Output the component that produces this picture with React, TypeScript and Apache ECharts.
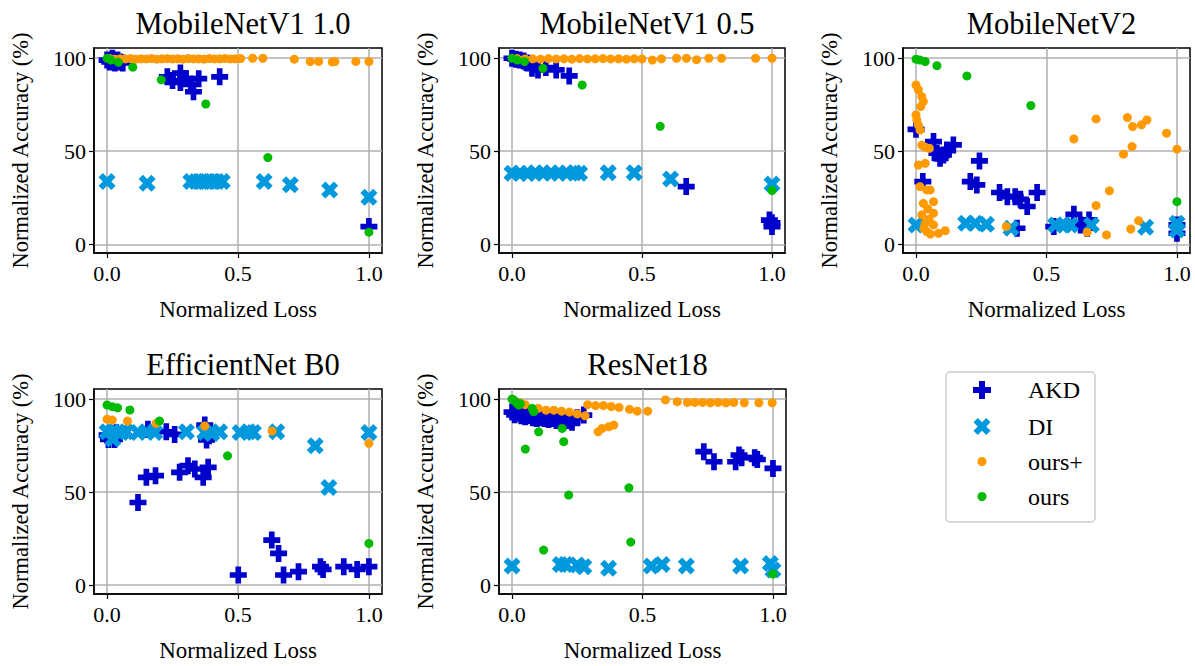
import React, { useEffect, useRef } from "react";
import * as echarts from "echarts";

// ---------- data ----------
const titles = ["MobileNetV1 1.0", "MobileNetV1 0.5", "MobileNetV2", "EfficientNet B0", "ResNet18"];
const seriesNames = ["AKD", "DI", "ours+", "ours"];
const xTicks = [0, 0.5, 1];
const yTicks = [0, 50, 100];

const m10AKD = [[0, 99], [0.01, 98], [0.02, 100], [0.03, 97.5], [0.04, 99], [0.05, 98], [0.06, 97.5], [0.23, 90], [0.25, 88], [0.28, 92], [0.28, 87], [0.3, 89], [0.32, 86], [0.33, 82], [0.35, 89], [0.43, 90], [1.0, 9.5]];
const m10DI = [[0, 33.7], [0.153, 32.8], [0.32, 33.7], [0.34, 33.7], [0.36, 33.7], [0.38, 33.7], [0.4, 33.7], [0.42, 33.7], [0.44, 33.7], [0.6, 33.7], [0.7, 32], [0.85, 29.2], [1.0, 25.3]];
const m10OursPlus = [[0.01, 99.8], [0.03, 99.5], [0.05, 99.7], [0.07, 99.6], [0.09, 99.8], [0.11, 99.5], [0.13, 99.7], [0.15, 99.6], [0.17, 99.8], [0.19, 99.5], [0.21, 99.7], [0.23, 99.8], [0.25, 99.6], [0.27, 99.7], [0.29, 99.5], [0.31, 99.8], [0.33, 99.6], [0.35, 99.7], [0.37, 99.5], [0.39, 99.8], [0.41, 99.6], [0.43, 99.7], [0.45, 99.8], [0.47, 99.6], [0.49, 99.7], [0.51, 99.8], [0.556, 100], [0.595, 100], [0.715, 99.5], [0.776, 98.2], [0.808, 98.3], [0.86, 98], [0.87, 98.2], [0.95, 98.3], [1.0, 98.2]];
const m10Ours = [[0, 100], [0.015, 99], [0.043, 97.8], [0.098, 95.2], [0.207, 88.4], [0.377, 75.4], [0.614, 46.6], [1.0, 6.5]];

const m05AKD = [[0, 100], [0.015, 99.5], [0.03, 99], [0.045, 98.5], [0.06, 97.5], [0.077, 94.6], [0.1, 93.7], [0.13, 95], [0.17, 93.7], [0.22, 90.5], [0.67, 31], [0.99, 13], [1.0, 11.5], [1.0, 9.5]];
const m05DI = [[0, 38.2], [0.03, 38.2], [0.06, 38], [0.09, 38.4], [0.12, 38.2], [0.15, 38.5], [0.18, 38.2], [0.21, 38.3], [0.24, 38.5], [0.26, 38.2], [0.37, 38.5], [0.47, 38.5], [0.61, 35.1], [1.0, 32.4]];
const m05OursPlus = [[0.02, 99.8], [0.05, 99.6], [0.08, 99.7], [0.11, 99.5], [0.14, 99.8], [0.17, 99.6], [0.2, 99.7], [0.23, 99.5], [0.26, 99.8], [0.29, 99.6], [0.32, 99.7], [0.35, 99.8], [0.38, 99.6], [0.41, 99.7], [0.44, 99.5], [0.47, 99.7], [0.5, 99.6], [0.54, 99], [0.575, 99.7], [0.633, 100], [0.671, 100], [0.71, 99.2], [0.757, 100], [0.806, 100], [0.937, 100], [1.0, 100]];
const m05Ours = [[0, 100], [0.02, 99], [0.048, 98.2], [0.119, 94.6], [0.27, 85.6], [0.57, 63.4], [1.0, 28.9]];

const m2AKD = [[0, 61.8], [0.067, 55.2], [0.08, 48.9], [0.092, 46.2], [0.105, 48], [0.118, 50.7], [0.143, 53.4], [0.026, 33.7], [0.208, 33.7], [0.233, 31.9], [0.243, 44.8], [0.32, 27.8], [0.35, 25.6], [0.38, 25.6], [0.4, 24.2], [0.426, 20.3], [0.464, 27.8], [0.387, 8.6], [0.528, 9.5], [0.605, 16.1], [0.631, 10.4], [0.663, 13.1], [0.656, 8.6], [1.0, 10.4], [1.0, 5.9]];
const m2DI = [[0, 10.4], [0.19, 11.3], [0.227, 11.3], [0.27, 10.8], [0.364, 8.6], [0.535, 10.4], [0.567, 10.4], [0.592, 10.4], [0.672, 10.4], [0.88, 9.1], [1.0, 11.3], [1.0, 7.7]];
const m2OursPlus = [[0, 85.6], [0.009, 83], [0.022, 79.4], [0.028, 76.7], [0.018, 74], [0, 69.5], [0.003, 66.8], [0.009, 64.1], [0.015, 61.4], [0.022, 53.3], [0.035, 52.2], [0.051, 51.6], [0.009, 42.6], [0.035, 43.5], [0.015, 31], [0.041, 29.2], [0.054, 29.2], [0.028, 22], [0.067, 22.9], [0.045, 19], [0.022, 15.8], [0.067, 16.7], [0.05, 13.5], [0.035, 11.3], [0.067, 10.4], [0.03, 8.5], [0.041, 6.8], [0.055, 5.5], [0.086, 5.9], [0.112, 7.3], [0.346, 9.5], [0.605, 56.6], [0.69, 67.4], [0.81, 68.1], [0.83, 63.3], [0.864, 64.2], [0.885, 66.8], [0.96, 59.7], [1.0, 51.1], [0.828, 52.5], [0.795, 48.4], [0.741, 28.7], [0.69, 20.8], [0.853, 12.7], [0.823, 8.2], [0.656, 6.5], [0.73, 5.0]];
const m2Ours = [[0, 99.5], [0.015, 99], [0.035, 98.2], [0.08, 96], [0.195, 90.5], [0.44, 74.6], [1.0, 22.9]];

const effAKD = [[0, 80.6], [0.005, 78.3], [0.028, 78.3], [0.035, 81.9], [0.156, 83.7], [0.226, 82.4], [0.258, 81], [0.373, 86], [0.38, 78], [0.39, 80.3], [0.118, 44.4], [0.15, 57.9], [0.185, 58.8], [0.277, 60.6], [0.309, 64.2], [0.335, 62.4], [0.367, 57.9], [0.386, 63.3], [0.501, 5.4], [0.629, 24.2], [0.655, 17.0], [0.674, 5.4], [0.731, 7.2], [0.815, 9.9], [0.825, 8.4], [0.904, 9.9], [0.955, 8.4], [1.0, 9.9]];
const effDI = [[0, 82.4], [0.022, 78.5], [0.022, 82.4], [0.054, 82], [0.073, 82.4], [0.118, 82], [0.15, 82.4], [0.182, 82], [0.303, 82.4], [0.373, 82], [0.4, 81.5], [0.43, 82.4], [0.508, 82], [0.54, 82.4], [0.559, 82], [0.648, 82.4], [0.795, 74.9], [0.847, 52.5], [1.0, 82]];
const effOursPlus = [[0, 89.2], [0.02, 88.7], [0.078, 88.2], [0.187, 86.9], [0.373, 85.5], [0.63, 82.8], [1.0, 76.2]];
const effOurs = [[0, 96.8], [0.02, 95.9], [0.04, 95.3], [0.087, 94.1], [0.2, 88.2], [0.46, 69.5], [1.0, 22.4]];

const r18AKD = [[0, 93], [0.01, 91.5], [0.02, 92.5], [0.035, 91], [0.05, 90.5], [0.065, 91], [0.08, 90], [0.095, 89.5], [0.11, 90], [0.125, 89.5], [0.14, 89], [0.155, 89.5], [0.17, 88.5], [0.185, 88.7], [0.2, 89.5], [0.215, 88.5], [0.23, 87.5], [0.25, 90], [0.275, 91.4], [0.735, 71.7], [0.774, 66.3], [0.857, 66.3], [0.87, 69.9], [0.88, 68.5], [0.93, 68.5], [0.94, 67.5], [1.0, 62.7]];
const r18DI = [[0, 10.2], [0.185, 11.1], [0.205, 11.1], [0.25, 10.8], [0.275, 9.9], [0.37, 9.0], [0.533, 10.2], [0.575, 11.1], [0.668, 10.2], [0.876, 10.2], [0.99, 11.6], [1.0, 8.1]];
const r18OursPlus = [[0.03, 98], [0.05, 97], [0.1, 95], [0.13, 94], [0.16, 94], [0.19, 93.5], [0.22, 93], [0.25, 92], [0.28, 91], [0.29, 97], [0.32, 96.5], [0.35, 96.5], [0.38, 96], [0.41, 95.5], [0.45, 94.5], [0.48, 93.5], [0.52, 93.5], [0.33, 82.4], [0.345, 84.2], [0.371, 85.1], [0.39, 86], [0.588, 99.5], [0.633, 98.6], [0.672, 98.2], [0.7, 98.2], [0.73, 98.2], [0.76, 98], [0.79, 98.2], [0.82, 98], [0.85, 98.2], [0.89, 98], [0.946, 98], [0.997, 98]];
const r18Ours = [[0, 100], [0.006, 99.5], [0.013, 98.6], [0.019, 97.7], [0.026, 96.8], [0.032, 97.5], [0.077, 95], [0.083, 93.2], [0.051, 73.1], [0.102, 82.4], [0.192, 84.2], [0.198, 77.1], [0.217, 48.4], [0.121, 18.8], [0.448, 52.3], [0.455, 23.1], [1.0, 5.9]];

const panels = [
  [m10AKD, m10DI, m10OursPlus, m10Ours],
  [m05AKD, m05DI, m05OursPlus, m05Ours],
  [m2AKD, m2DI, m2OursPlus, m2Ours],
  [effAKD, effDI, effOursPlus, effOurs],
  [r18AKD, r18DI, r18OursPlus, r18Ours],
];

// ---------- style ----------
const FONT = "'Liberation Serif', 'Times New Roman', serif";
const colors = ["#0000cd", "#0099dd", "#ff9900", "#00bb00"];
const PLUS_PTS = [[-1, -3], [1, -3], [1, -1], [3, -1], [3, 1], [1, 1], [1, 3], [-1, 3], [-1, 1], [-3, 1], [-3, -1], [-1, -1]];
const X_PTS = [[-1, -2], [0, -1], [1, -2], [2, -1], [1, 0], [2, 1], [1, 2], [0, 1], [-1, 2], [-2, 1], [-1, 0], [-2, -1]];
const toPath = (pts: number[][]) => "path://M" + pts.map((p) => p.join(",")).join("L") + "Z";
const symbols = [toPath(PLUS_PTS), toPath(X_PTS), "circle", "circle"];
const symbolSizes = [17, 17, 9, 9];

const grids = [
  { left: 94, top: 48, width: 288, height: 205 },
  { left: 499, top: 48, width: 286, height: 205 },
  { left: 903, top: 48, width: 287, height: 205 },
  { left: 94, top: 389, width: 288, height: 205 },
  { left: 499, top: 389, width: 287, height: 205 },
];
const yRanges = [
  [-4.7, 105.5], [-4.7, 105.5], [-4.7, 105.5], [-4.8, 105.4], [-4.8, 105.4],
];

export default function App() {
  const ref = useRef<HTMLDivElement>(null);
  useEffect(() => {
    if (!ref.current) return;
    const chart = echarts.init(ref.current, undefined, { renderer: "svg" });
    const tickLine = { color: "#000", width: 1.2 };
    const option: any = {
      animation: false,
      backgroundColor: "#fff",
      title: titles.map((t, i) => ({
        text: t,
        left: grids[i].left + grids[i].width / 2,
        top: grids[i].top - 45,
        textAlign: "center",
        textStyle: { fontFamily: FONT, fontSize: 30.5, fontWeight: "normal", color: "#000" },
      })),
      grid: grids.map((g) => ({ ...g, show: true, borderColor: "#000", borderWidth: 1.5, backgroundColor: "transparent", containLabel: false })),
      xAxis: grids.map((g, i) => ({
        gridIndex: i,
        type: "value",
        min: -0.05,
        max: 1.05,
        axisLine: { show: true, onZero: false, lineStyle: { color: "#000", width: 1.5 } },
        axisTick: { show: true, inside: false, length: 5, lineStyle: tickLine, customValues: xTicks },
        axisLabel: { customValues: xTicks, formatter: (v: number) => v.toFixed(1), fontFamily: FONT, fontSize: 22, color: "#000", margin: 9 },
        splitLine: { show: true, lineStyle: { color: "#b0b0b0", width: 1.5 } },
        name: "Normalized Loss",
        nameLocation: "middle",
        nameGap: 45,
        nameTextStyle: { fontFamily: FONT, fontSize: 23, color: "#000" },
      })),
      yAxis: grids.map((g, i) => ({
        gridIndex: i,
        type: "value",
        min: yRanges[i][0],
        max: yRanges[i][1],
        axisLine: { show: true, onZero: false, lineStyle: { color: "#000", width: 1.5 } },
        axisTick: { show: true, inside: false, length: 5, lineStyle: tickLine, customValues: yTicks },
        axisLabel: { customValues: yTicks, fontFamily: FONT, fontSize: 22, color: "#000", margin: 8 },
        splitLine: { show: true, lineStyle: { color: "#b0b0b0", width: 1.5 } },
        name: "Normalized Accuracy (%)",
        nameLocation: "middle",
        nameGap: 62,
        nameTextStyle: { fontFamily: FONT, fontSize: 22.5, color: "#000" },
      })),
      series: panels.flatMap((sets, i) =>
        sets.map((data, k) => ({
          type: "scatter",
          name: seriesNames[k],
          xAxisIndex: i,
          yAxisIndex: i,
          data,
          symbol: symbols[k],
          symbolSize: symbolSizes[k],
          itemStyle: { color: colors[k], opacity: 1 },
          z: 2 + k,
        }))
      ),
      graphic: [
        {
          type: "group",
          children: [
            { type: "rect", shape: { x: 946, y: 372, width: 149, height: 150, r: 4 }, style: { fill: "#fff", stroke: "#cccccc", lineWidth: 1.5 } },
            ...seriesNames.flatMap((n, k) => {
              const cy = [390, 426.5, 461.5, 496.5][k];
              const cx = 982;
              let marker: any;
              if (k === 0) marker = { type: "polygon", shape: { points: PLUS_PTS.map(([a, b]) => [cx + a * 3, cy + b * 3]) }, style: { fill: colors[0] } };
              else if (k === 1) marker = { type: "polygon", shape: { points: X_PTS.map(([a, b]) => [cx + a * 4.25, cy + b * 4.25]) }, style: { fill: colors[1] } };
              else marker = { type: "circle", shape: { cx, cy, r: 4.5 }, style: { fill: colors[k] } };
              return [
                marker,
                { type: "text", x: 1028, y: cy, style: { text: n, fontFamily: FONT, fontSize: 24, fill: "#000", verticalAlign: "middle", align: "left" } },
              ];
            }),
          ],
        },
      ],
    };
    chart.setOption(option);
    return () => chart.dispose();
  }, []);
  return <div ref={ref} style={{ position: "absolute", left: 0, top: 0, width: 1195, height: 666 }} />;
}
